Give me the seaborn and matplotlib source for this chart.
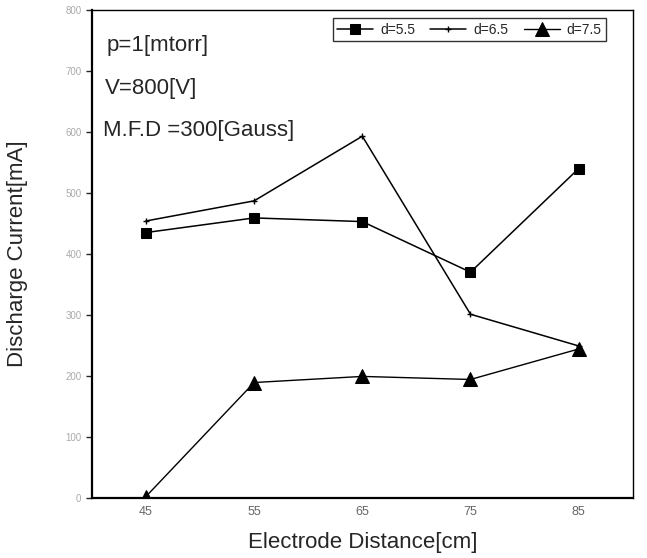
import pandas as pd
import seaborn as sns
import matplotlib
matplotlib.use('Agg')
import matplotlib.pyplot as plt

# Data
distance = [45, 55, 65, 75, 85]
current_d55 = [435, 459, 453, 370, 540]
current_d65 = [454, 487, 593, 301, 249]
current_d75 = [2, 189, 199, 194, 244]

y_ticks = [0, 100, 200, 300, 400, 500, 600, 700, 800]
x_ticks = [45, 55, 65, 75, 85]

sns.set_style('white')
plt.rcParams['font.family'] = ['Liberation Sans', 'DejaVu Sans']

fig = plt.figure(figsize=(6.47, 5.58), dpi=100)
ax = fig.add_axes([0.142, 0.108, 0.836, 0.874])

sns.lineplot(x=distance, y=current_d55, ax=ax, color='black', lw=1.1,
             marker='s', markersize=7, markeredgecolor='black', label='d=5.5')
sns.lineplot(x=distance, y=current_d65, ax=ax, color='black', lw=1.1,
             marker='+', markersize=5, markeredgewidth=1,
             markeredgecolor='black', label='d=6.5')
sns.lineplot(x=distance, y=current_d75, ax=ax, color='black', lw=1.0,
             marker='^', markersize=10, markeredgecolor='black', label='d=7.5')

ax.set_xlim(40, 90)
ax.set_ylim(0, 800)
ax.set_xticks(x_ticks)
ax.set_yticks(y_ticks)
ax.tick_params(axis='x', direction='in', length=5, width=1, labelsize=9,
               labelcolor='#666666', pad=6)
ax.tick_params(axis='y', direction='out', length=4, width=1, labelsize=7,
               labelcolor='#aaaaaa', left=True)

for side in ['left', 'bottom']:
    ax.spines[side].set_linewidth(1.6)
for side in ['top', 'right']:
    ax.spines[side].set_linewidth(1.0)
for s in ax.spines.values():
    s.set_color('black')

ax.set_xlabel('Electrode Distance[cm]', fontsize=16, labelpad=10)
ax.set_ylabel('Discharge Current[mA]', fontsize=16, labelpad=27)

ax.text(0.028, 0.928, 'p=1[mtorr]', transform=ax.transAxes, fontsize=16, va='center')
ax.text(0.024, 0.84, 'V=800[V]', transform=ax.transAxes, fontsize=16, va='center')
ax.text(0.02, 0.752, 'M.F.D =300[Gauss]', transform=ax.transAxes, fontsize=16, va='center')

leg = ax.legend(loc='upper right', bbox_to_anchor=(0.963, 0.997), ncol=3,
                fontsize=10, frameon=True, fancybox=False, handlelength=2.6,
                columnspacing=1.1, handletextpad=0.5, borderpad=0.3)
leg.get_frame().set_edgecolor('black')
leg.get_frame().set_linewidth(1.0)

fig.savefig('out.png', dpi=100)
